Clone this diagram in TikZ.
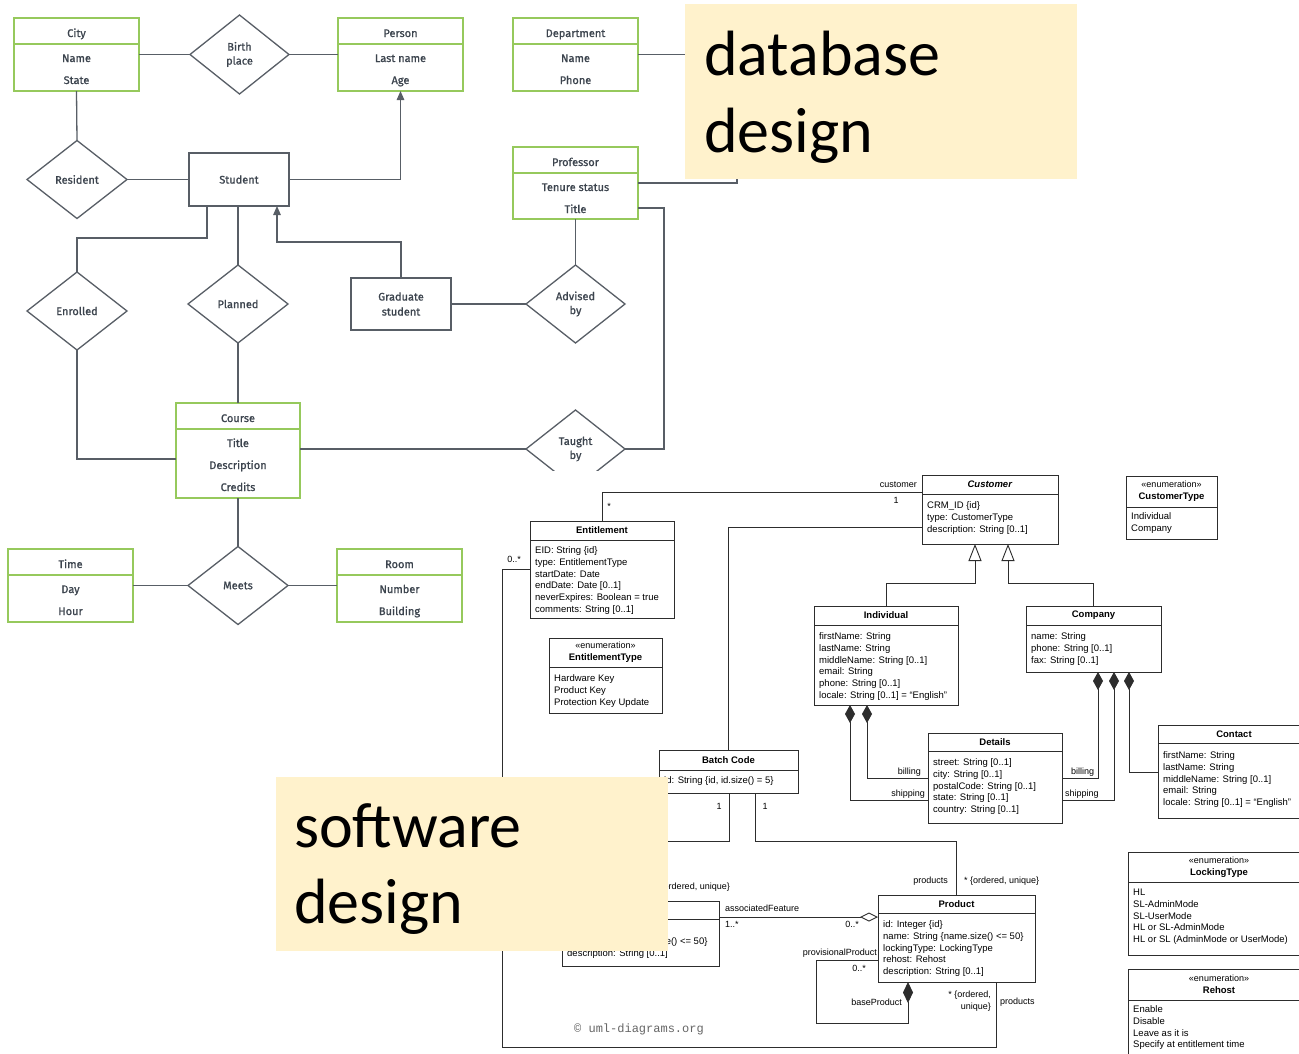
\documentclass[tikz,border=0pt]{standalone}
\usepackage{fontspec}
\setmainfont{Liberation Sans}
\newfontfamily\erfont{Fira Sans}[RawFeature={embolden=1.0}]
\newfontfamily\labelfont{Carlito}
\newfontfamily\markfont{Liberation Mono}
\usetikzlibrary{shapes.geometric,arrows.meta}

\definecolor{ergreen}{RGB}{150,201,92}
\definecolor{erline}{RGB}{88,94,102}
\definecolor{ertextc}{RGB}{60,68,78}
\definecolor{umlc}{RGB}{45,45,45}
\definecolor{labelfill}{HTML}{FFF2CC}

\tikzset{
  erbox/.style={draw=ergreen, line width=1.4pt, rectangle, inner sep=0pt, outer sep=0pt},
  erdiv/.style={draw=ergreen, line width=1.4pt},
  erplain/.style={draw=erline, line width=1.3pt, rectangle, inner sep=0pt, outer sep=0pt,
    font=\erfont\fontsize{11}{15}\selectfont, text=ertextc, align=center},
  ertext/.style={font=\erfont\fontsize{11}{13}\selectfont, text=ertextc, inner sep=0pt},
  erdia/.style={draw=erline, line width=1.3pt, diamond, inner sep=0pt, outer sep=0pt,
    font=\erfont\fontsize{11}{14}\selectfont, text=ertextc, align=center},
  erlink/.style={draw=erline, line width=1.3pt},
  erarrow/.style={erlink, -{Triangle[length=9pt,width=7.5pt]}},
  umlbox/.style={draw=umlc, line width=0.9pt, rectangle, inner sep=0pt, outer sep=0pt},
  umlline/.style={draw=umlc, line width=0.9pt},
  umltext/.style={font=\fontsize{9.5}{12}\selectfont, text=black, inner sep=0pt},
  umltitle/.style={font=\bfseries\fontsize{9.5}{12}\selectfont, text=black, align=center, inner sep=0pt},
  umlnote/.style={font=\fontsize{9}{12}\selectfont, text=black, inner sep=0pt},
  compstart/.style={{Diamond[length=18pt,width=10pt]}-},
  genend/.style={-{Triangle[open,length=17pt,width=13pt]}},
  labelbox/.style={fill=labelfill, rectangle, inner sep=0pt, outer sep=0pt},
  labeltext/.style={font=\labelfont\fontsize{64}{76}\selectfont, text=black, inner sep=0pt},
}

% green ER entity: name, left, top, right, bottom, divider, title, attributes
\newcommand\erentity[8]{%
  \node[erbox, anchor=north west, minimum width={#4-#2}, minimum height={#5-#3}] (#1) at (#2,#3) {};
  \draw[erdiv] (#2,#6) -- (#4,#6);
  \node[ertext, anchor=base] (#1-title) at ({(#2+#4)/2},{#6-7}) {#7};
  \foreach \lbl [count=\k from 0] in {#8} {%
    \node[ertext, anchor=base] (#1-a\k) at ({(#2+#4)/2},{#6+18+22*\k}) {\lbl};}%
}

% UML class: name, left, top, right, bottom, divider, title, first baseline, attributes
\newcommand\umlclass[9]{%
  \node[umlbox, anchor=north west, minimum width={#4-#2}, minimum height={#5-#3}] (#1) at (#2,#3) {};
  \draw[umlline] (#2,#6) -- (#4,#6);
  \node[umltitle] (#1-title) at ({(#2+#4)/2},{(#3+#6)/2}) {#7};
  \foreach \lbl [count=\k from 0] in {#9} {%
    \node[umltext, anchor=base west] (#1-a\k) at ({#2+5},{#8+11.8*\k}) {\lbl};}%
}
\newcommand\enumtag{{\mdseries\fontsize{9}{12}\selectfont «enumeration»}}

\begin{document}
\begin{tikzpicture}[x=1pt,y=-1pt]
\useasboundingbox (0,0) rectangle (1299,1053);
\clip (0,0) rectangle (1299,1053);
\fill[white] (0,0) rectangle (1299,1053);

% ---------------- ER diagram ----------------
\erentity{city}{14}{18}{139}{91}{44}{City}{Name,State}
\erentity{person}{338}{18}{463}{91}{44}{Person}{Last name,Age}
\erentity{dept}{513}{18}{638}{91}{44}{Department}{Name,Phone}
\erentity{prof}{513}{147}{638}{219}{173}{Professor}{Tenure status,Title}
\erentity{course}{176}{403}{300}{498}{429}{Course}{Title,Description,Credits}
\erentity{time}{8}{549}{133}{622}{575}{Time}{Day,Hour}
\erentity{room}{337}{549}{462}{622}{575}{Room}{Number,Building}

\node[erplain, minimum width=100pt, minimum height=53pt] (student) at (239,179.5) {Student};
\node[erplain, minimum width=100pt, minimum height=52pt] (grad) at (401,304) {Graduate\\student};

\node[erdia, minimum width=99pt, minimum height=79pt] (birth) at (239.5,54.5) {Birth\\place};
\node[erdia, minimum width=100pt, minimum height=78pt] (resident) at (77,179.5) {Resident};
\node[erdia, minimum width=100pt, minimum height=78pt] (enrolled) at (77,311) {Enrolled};
\node[erdia, minimum width=100pt, minimum height=78pt] (planned) at (238,304) {Planned};
\node[erdia, minimum width=99pt, minimum height=78pt] (advised) at (575.5,304) {Advised\\by};
\node[erdia, minimum width=100pt, minimum height=78pt] (meets) at (238,585.5) {Meets};
\begin{scope}
  \clip (480,380) rectangle (700,470);
  \node[erdia, minimum width=99pt, minimum height=78pt] (taught) at (575.5,449) {Taught\\by};
\end{scope}

\coordinate (deptend) at (700,54.5);
\coordinate (tenureend) at (737,170);
\draw[erlink] (city.east) -- (birth.west);
\draw[erlink] (birth.east) -- (person.west);
\draw[erlink] (dept.east) -- (deptend);
\draw[erlink] (city.south) -- (resident.north);
\draw[erlink] (resident.east) -- (student.west);
\draw[erarrow] (student.east) -| (person.south);
\draw[erlink] (prof.east) -| (tenureend);
\draw[erlink] (prof.east |- 0,208) -- (664,208) |- (taught.east);
\draw[erlink] (prof.south) -- (advised.north);
\draw[erlink] (grad.east) -- (advised.west);
\draw[erarrow] (grad.north) |- (277,242) -- (student.south -| 277,0);
\draw[erlink] (student.south -| 207,0) -- (207,238) -| (enrolled.north);
\draw[erlink] (student.south -| planned.north) -- (planned.north);
\draw[erlink] (planned.south) -- (course.north);
\draw[erlink] (enrolled.south) |- (course.west |- 0,459);
\draw[erlink] (course.east |- taught.west) -- (taught.west);
\draw[erlink] (course.south) -- (meets.north);
\draw[erlink] (meets.west) -- (time.east);
\draw[erlink] (meets.east) -- (room.west);

% ---------------- UML class diagram ----------------
\umlclass{ent}{530}{521}{674}{618}{540}{Entitlement}{553.5}{{EID: String \{id\}},{type: EntitlementType},{startDate: Date},{endDate: Date [0..1]},{neverExpires: Boolean = true},{comments: String [0..1]}}
\umlclass{cust}{922}{475}{1058}{544}{494}{\textit{Customer}}{508.5}{{CRM\_ID \{id\}},{type: CustomerType},{description: String [0..1]}}
\umlclass{ctype}{1126}{476}{1217}{539}{507}{\enumtag\\CustomerType}{519.5}{Individual,Company}
\umlclass{ind}{814}{606}{958}{705}{625}{Individual}{639.5}{{firstName: String},{lastName: String},{middleName: String [0..1]},{email: String},{phone: String [0..1]},{locale: String [0..1] = “English”}}
\umlclass{comp}{1026}{606}{1161}{672}{625}{Company}{639.5}{{name: String},{phone: String [0..1]},{fax: String [0..1]}}
\umlclass{det}{928}{733}{1062}{823}{751}{Details}{765.5}{{street: String [0..1]},{city: String [0..1]},{postalCode: String [0..1]},{state: String [0..1]},{country: String [0..1]}}
\umlclass{contact}{1158}{725}{1310}{818}{743}{Contact}{758.5}{{firstName: String},{lastName: String},{middleName: String [0..1]},{email: String},{locale: String [0..1] = “English”}}
\umlclass{etype}{549}{638}{662}{713}{667}{\enumtag\\EntitlementType}{681.5}{{Hardware Key},{Product Key},{Protection Key Update}}
\umlclass{batch}{659}{750}{798}{793}{770}{Batch Code}{783.5}{{id: String \{id, id.size() = 5\}}}
\umlclass{feat}{562}{901}{719}{966}{919}{}{944.5}{{name: String \{name.size() <= 50\}},{description: String [0..1]}}
\umlclass{prod}{878}{895}{1035}{982}{913}{Product}{927.5}{{id: Integer \{id\}},{name: String \{name.size() <= 50\}},{lockingType: LockingType},{rehost: Rehost},{description: String [0..1]}}
\umlclass{lock}{1128}{852}{1310}{955}{882}{\enumtag\\LockingType}{895.5}{HL,SL-AdminMode,SL-UserMode,{HL or SL-AdminMode},{HL or SL (AdminMode or UserMode)}}
\umlclass{rehost}{1128}{969}{1310}{1065}{1000}{\enumtag\\Rehost}{1012.5}{Enable,Disable,{Leave as it is},{Specify at entitlement time}}

% associations
\draw[umlline] (ent.north) |- (cust.west |- 0,492);
\node[umlnote, anchor=base] (m-ent) at (609,509) {*};
\node[umlnote, anchor=base east] (r-cust) at (917,487) {customer};
\node[umlnote, anchor=base] (m-cust) at (896,503) {1};
\draw[umlline] (cust.west |- 0,527) -| (batch.north);

\draw[umlline, genend] (ind.north) |- (975,583) -- (cust.south -| 975,0);
\draw[umlline, genend] (comp.north) |- (1008,583) -- (cust.south -| 1008,0);

\draw[umlline, compstart] (comp.south -| 1098,0) |- (det.east |- 0,778);
\draw[umlline, compstart] (comp.south -| 1114,0) |- (det.east |- 0,800);
\draw[umlline, compstart] (comp.south -| 1129,0) |- (contact.west |- 0,772);
\draw[umlline, compstart] (ind.south -| 867,0) |- (det.west |- 0,778);
\draw[umlline, compstart] (ind.south -| 850,0) |- (det.west |- 0,800);
\node[umlnote, anchor=base east] (r-ib) at (921,774) {billing};
\node[umlnote, anchor=base east] (r-is) at (925,796) {shipping};
\node[umlnote, anchor=base west] (r-cb) at (1071,774) {billing};
\node[umlnote, anchor=base west] (r-cs) at (1065,796) {shipping};

\draw[umlline] (batch.south -| 729,0) -- (729,841) -| (feat.north);
\draw[umlline] (batch.south -| 755,0) -- (755,841) -| (prod.north);
\node[umlnote, anchor=base] (m-b1) at (719,809) {1};
\node[umlnote, anchor=base] (m-b2) at (765,809) {1};
\node[umlnote, anchor=base east] (m-feat) at (730,889) {* \{ordered, unique\}};
\node[umlnote, anchor=base east] (r-prod1) at (948,883) {products};
\node[umlnote, anchor=base west] (m-prod1) at (964,883) {* \{ordered, unique\}};

\draw[umlline, -{Diamond[open,length=18pt,width=9pt]}] (feat.east |- 0,917) -- (prod.west |- 0,917);
\node[umlnote, anchor=base west] (r-assoc) at (725,911) {associatedFeature};
\node[umlnote, anchor=base west] (m-assoc1) at (725,927) {1..*};
\node[umlnote, anchor=base] (m-assoc2) at (852,927) {0..*};

\draw[umlline, {Diamond[length=21pt,width=10pt]}-] (prod.south -| 908,0) -- (908,1023) -| (816,960) -- (prod.west |- 0,960);
\node[umlnote, anchor=base east] (r-prov) at (877,955) {provisionalProduct};
\node[umlnote, anchor=base] (m-prov) at (859,971) {0..*};
\node[umlnote, anchor=base east] (r-base) at (902,1005) {baseProduct};

\draw[umlline] (ent.west |- 0,569) -- (502,569) |- (996,1047) -- (prod.south -| 996,0);
\node[umlnote, anchor=base] (m-ent2) at (514,562) {0..*};
\node[umlnote, anchor=east, align=right] (m-prod2) at (991,1001) {* \{ordered,\\unique\}};
\node[umlnote, anchor=base west] (r-prod2) at (1000,1004) {products};

\node[font=\markfont\fontsize{12}{14}\selectfont, text=black!60, inner sep=0pt] (credit) at (639,1029) {© uml-diagrams.org};

% ---------------- captions ----------------
\node[labelbox, anchor=north west, minimum width=392pt, minimum height=175pt] (dbbox) at (685,4) {};
\node[labeltext, anchor=base west] (dbline1) at (704,75) {database};
\node[labeltext, anchor=base west] (dbline2) at (704,152) {design};
\node[labelbox, anchor=north west, minimum width=392pt, minimum height=174pt] (swbox) at (276,777) {};
\node[labeltext, anchor=base west] (swline1) at (294,847) {software};
\node[labeltext, anchor=base west] (swline2) at (294,923) {design};
\end{tikzpicture}
\end{document}
